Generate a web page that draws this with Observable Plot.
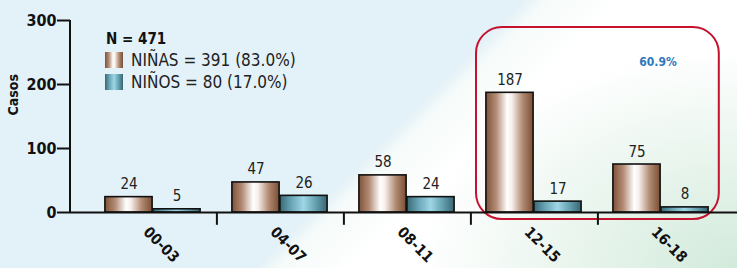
<!DOCTYPE html>
<html>
<head>
<meta charset="utf-8">
<script src="https://cdn.jsdelivr.net/npm/d3@7"></script>
<script src="https://cdn.jsdelivr.net/npm/@observablehq/plot@0.6"></script>
<style>
  html, body { margin: 0; padding: 0; }
  body {
    width: 737px; height: 268px; overflow: hidden;
    font-family: "DejaVu Sans Condensed", "DejaVu Sans", sans-serif;
    background:
      radial-gradient(ellipse 320px 220px at 737px 268px, rgba(205,232,215,0.9), rgba(255,255,255,0) 100%),
      linear-gradient(135deg, #e3f1f8 0%, #e3f1f8 52%, #f6fbfa 54.5%, #ffffff 62%, #ffffff 100%);
  }
  #wrap { position: relative; width: 737px; height: 268px; }
  #wrap svg { position: absolute; left: 0; top: 0; background: transparent; overflow: visible;
    font-family: "DejaVu Sans Condensed", "DejaVu Sans", sans-serif; }
  #legend { position: absolute; left: 105px; top: 30px; color: #222; }
  #legend .total { font-weight: bold; font-size: 15px; margin-left: 1px; line-height: 19px; color: #111; }
  #legend .row { display: flex; align-items: center; height: 22px; font-size: 17px; }
  #legend .sw { width: 18px; height: 16px; margin-right: 8px; }
</style>
</head>
<body>
<div id="wrap"><div id="legend"></div></div>
<script>
const categories = ["00-03", "04-07", "08-11", "12-15", "16-18"];
const ninas = [24, 47, 58, 187, 75];
const ninos = [5, 26, 24, 17, 8];
const yTicks = [0, 100, 200, 300];
const seriesNames = ["NIÑAS", "NIÑOS"];
const legendLabels = ["NIÑAS = 391 (83.0%)", "NIÑOS = 80 (17.0%)"];
const totalLabel = "N = 471";
const yLabel = "Casos";
const highlight = [{from: "12-15", to: "16-18", label: "60.9%"}];

const girls = categories.map((c, i) => ({cat: c, sex: seriesNames[0], v: ninas[i]}));
const boys = categories.map((c, i) => ({cat: c, sex: seriesNames[1], v: ninos[i]}));

const bw = (726 - 87) / categories.length;
const barW = 48;
const outer = (bw - 2 * barW) / 2;

const plot = Plot.plot({
  width: 737,
  height: 268,
  marginTop: 20,
  marginBottom: 56,
  marginLeft: 70,
  marginRight: 0,
  style: {background: "transparent", overflow: "visible"},
  x: {domain: categories, range: [87, 726], paddingInner: 0, paddingOuter: 0},
  y: {domain: [0, 300]},
  marks: [
    // highlight box
    Plot.barY(highlight, {x: "from", y1: -11, y2: 289, insetLeft: 6, insetRight: -(bw - 6),
      rx: 26, fill: "none", stroke: "#c4122f", strokeWidth: 2}),
    Plot.text(highlight, {x: "to", text: "label", frameAnchor: "top", dy: 37, dx: -3,
      fill: "#2f78bd", fontWeight: "bold", fontSize: 12}),
    // bars
    Plot.barY(girls, {x: "cat", y: "v", insetLeft: outer, insetRight: bw - outer - barW,
      fill: "url(#gradGirls)", stroke: "#111", strokeWidth: 1.6}),
    Plot.barY(boys, {x: "cat", y: "v", insetLeft: outer + barW, insetRight: outer,
      fill: "url(#gradBoys)", stroke: "#111", strokeWidth: 1.6}),
    // value labels
    Plot.text(girls, {x: "cat", y: "v", text: d => String(d.v), dx: -barW / 2, dy: -8,
      lineAnchor: "bottom", fill: "#222", fontSize: 15, fontWeight: "normal"}),
    Plot.text(boys, {x: "cat", y: "v", text: d => String(d.v), dx: barW / 2, dy: -8,
      lineAnchor: "bottom", fill: "#222", fontSize: 15, fontWeight: "normal"}),
    // axes
    Plot.ruleY([0], {stroke: "#111", strokeWidth: 2}),
    Plot.ruleX(categories.slice(0, -1), {x: d => d, dx: bw / 2, y1: 0, y2: -20, stroke: "#111", strokeWidth: 2}),
    Plot.axisY({ticks: yTicks, tickSize: 13, tickPadding: 1, stroke: "#111", strokeWidth: 2,
      fontWeight: "bold", fontSize: 16, fill: "#111", label: null}),
    Plot.text([yLabel], {text: d => d, frameAnchor: "left", rotate: -90, dx: -57, dy: -1,
      fontWeight: "bold", fontSize: 14, fill: "#111"}),
    Plot.axisX({tickRotate: 45, tickSize: 0, tickPadding: 12, dx: -7, dy: 5, fontWeight: "bold", fontSize: 15,
      fill: "#111", label: null})
  ]
});

const svg = d3.select(plot.tagName.toLowerCase() === "svg" ? plot : plot.querySelector("svg"));
// y axis line, from the y scale
const ys = plot.scale("y");
const x0 = 70;
svg.append("line")
  .attr("x1", x0).attr("x2", x0)
  .attr("y1", ys.apply(yTicks[0]) + 1).attr("y2", ys.apply(yTicks[yTicks.length - 1]))
  .attr("stroke", "#111").attr("stroke-width", 2);

// gradient definitions for bar fills
const defs = svg.insert("defs", ":first-child");
function grad(id, stops) {
  const g = defs.append("linearGradient").attr("id", id).attr("x1", "0").attr("x2", "1").attr("y1", "0").attr("y2", "0");
  stops.forEach(([o, c]) => g.append("stop").attr("offset", o).attr("stop-color", c));
}
const girlStops = [["0%", "#7e5236"], ["22%", "#b48d77"], ["45%", "#ffffff"], ["55%", "#f7efeb"], ["78%", "#b18a73"], ["100%", "#7a4e32"]];
const boyStops = [["0%", "#3a6874"], ["25%", "#6aa7b8"], ["50%", "#9fd6e5"], ["75%", "#66a2b2"], ["100%", "#386572"]];
grad("gradGirls", girlStops);
grad("gradBoys", boyStops);

document.getElementById("wrap").appendChild(plot);

// legend
const legend = d3.select("#legend");
legend.append("div").attr("class", "total").text(totalLabel);
[girlStops, boyStops].forEach((stops, i) => {
  const row = legend.append("div").attr("class", "row");
  row.append("div").attr("class", "sw")
    .style("background", `linear-gradient(90deg, ${stops.map(([o, c]) => c + " " + o).join(", ")})`);
  row.append("span").text(legendLabels[i]);
});
</script>
</body>
</html>
